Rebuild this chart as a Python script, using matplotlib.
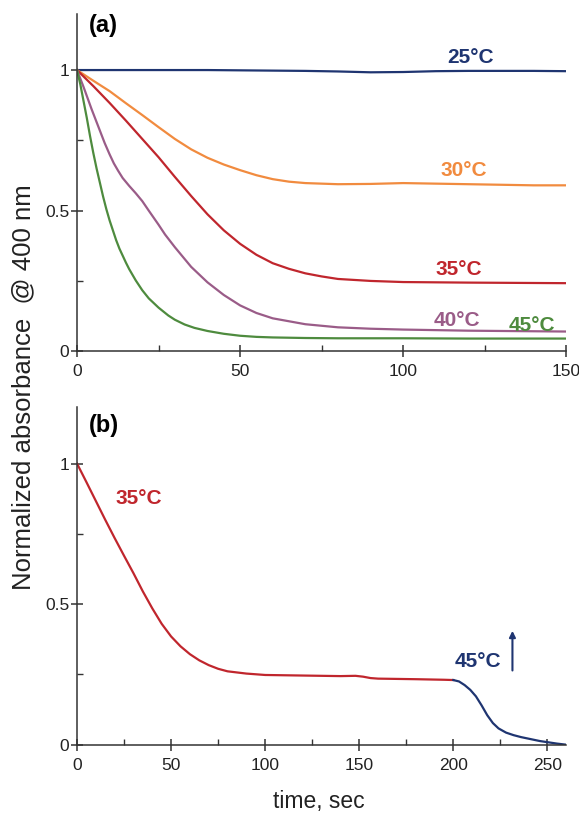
import matplotlib
matplotlib.use("Agg")
import matplotlib.pyplot as plt
from matplotlib.ticker import MultipleLocator, FixedLocator

plt.rcParams["font.family"] = ["Liberation Sans", "DejaVu Sans"]

# ---- panel (a): absorbance decay at different temperatures ----
t_25 = [0, 10, 20, 30, 40, 50, 60, 70, 80, 90, 100, 110, 120, 130, 140, 150]
a_25 = [1.0, 1.0, 1.0, 1.0, 1.0, 0.999, 0.998, 0.997, 0.995, 0.992, 0.993, 0.996, 0.997, 0.997, 0.997, 0.996]

t_30 = [0, 5, 10, 15, 20, 25, 30, 35, 40, 45, 50, 55, 60, 65, 70, 80, 90, 100, 110, 120, 130, 140, 150]
a_30 = [1.0, 0.962, 0.925, 0.882, 0.84, 0.797, 0.755, 0.718, 0.688, 0.664, 0.644, 0.626, 0.612,
        0.603, 0.598, 0.594, 0.595, 0.598, 0.596, 0.594, 0.592, 0.59, 0.59]

t_35 = [0, 5, 10, 15, 20, 25, 30, 35, 40, 45, 50, 55, 60, 65, 70, 75, 80, 90, 100, 120, 150]
a_35 = [1.0, 0.943, 0.883, 0.82, 0.755, 0.69, 0.62, 0.552, 0.487, 0.43, 0.382, 0.343, 0.313,
        0.293, 0.277, 0.266, 0.257, 0.25, 0.246, 0.244, 0.242]

t_40 = [0, 2, 4.5, 7, 8.5, 10, 11.3, 12.6, 14, 16, 18, 20, 22, 25, 27, 30, 35, 40, 45, 50,
        55, 60, 70, 80, 90, 100, 120, 150]
a_40 = [1.0, 0.94, 0.86, 0.785, 0.74, 0.70, 0.668, 0.642, 0.616, 0.588, 0.562, 0.534, 0.50,
        0.45, 0.415, 0.37, 0.30, 0.245, 0.2, 0.163, 0.136, 0.117, 0.096, 0.085, 0.08, 0.077,
        0.073, 0.07]

t_45 = [0, 1, 2, 3, 4, 5, 6, 7, 8, 9, 10, 11, 12, 13, 14, 15, 16, 18, 20, 22, 25, 28, 30,
        33, 36, 40, 45, 50, 55, 60, 70, 80, 100, 120, 150]
a_45 = [1.0, 0.95, 0.89, 0.83, 0.765, 0.705, 0.65, 0.60, 0.55, 0.505, 0.465, 0.43, 0.395,
        0.365, 0.34, 0.315, 0.292, 0.252, 0.217, 0.188, 0.155, 0.127, 0.112, 0.095, 0.083,
        0.072, 0.062, 0.055, 0.051, 0.049, 0.047, 0.046, 0.046, 0.045, 0.045]

# ---- panel (b): 35C then jump to 45C ----
tb_35 = [0, 5, 10, 15, 20, 25, 30, 35, 40, 45, 50, 55, 60, 65, 70, 75, 80, 90, 100,
         120, 140, 148, 152, 156, 160, 180, 195, 200]
ab_35 = [1.0, 0.934, 0.867, 0.80, 0.735, 0.672, 0.61, 0.545, 0.485, 0.43, 0.385, 0.35, 0.322,
         0.30, 0.283, 0.27, 0.261, 0.253, 0.248, 0.246, 0.244, 0.245, 0.242, 0.237,
         0.235, 0.233, 0.231, 0.23]
tb_45 = [200, 203, 206, 209, 212, 215, 218, 221, 224, 228, 232, 236, 241, 246, 250, 255, 260]
ab_45 = [0.23, 0.225, 0.212, 0.195, 0.172, 0.14, 0.105, 0.077, 0.058, 0.043, 0.034, 0.027,
         0.02, 0.013, 0.009, 0.004, 0.0]

C_NAVY = "#1f3571"
C_ORANGE = "#f18b3f"
C_RED = "#c0262d"
C_PURPLE = "#9a5c88"
C_GREEN = "#4e8b3e"


def style_axis(ax, xmax, xmajor):
    for side in ["top", "right"]:
        ax.spines[side].set_visible(False)
    for side in ["left", "bottom"]:
        ax.spines[side].set_color("#333333")
        ax.spines[side].set_linewidth(1.1)
    ax.set_xlim(0, xmax)
    ax.set_ylim(0, 1.2)
    ax.xaxis.set_major_locator(MultipleLocator(xmajor))
    ax.xaxis.set_minor_locator(MultipleLocator(xmajor / 2))
    ax.yaxis.set_major_locator(FixedLocator([0, 0.5, 1]))
    ax.yaxis.set_minor_locator(FixedLocator([0.25, 0.75]))
    ax.set_yticklabels(["0", "0.5", "1"])
    ax.tick_params(which="major", direction="inout", length=9, width=1.1,
                   color="#333333", labelsize=12.5, labelcolor="#222222")
    ax.tick_params(axis="y", which="major", pad=1)
    ax.tick_params(axis="x", which="major", pad=5)
    ax.tick_params(which="minor", direction="in", length=4, width=1.0, color="#333333")


fig = plt.figure(figsize=(5.79, 8.13), dpi=100)
ax1 = fig.add_axes([0.133, 0.568, 0.845, 0.415])
ax2 = fig.add_axes([0.133, 0.084, 0.845, 0.415])

lw = 1.6
ax1.plot(t_25, a_25, color=C_NAVY, lw=lw)
ax1.plot(t_30, a_30, color=C_ORANGE, lw=lw)
ax1.plot(t_35, a_35, color=C_RED, lw=lw)
ax1.plot(t_40, a_40, color=C_PURPLE, lw=lw)
ax1.plot(t_45, a_45, color=C_GREEN, lw=lw)
style_axis(ax1, 150, 50)

lab = dict(fontsize=15, fontweight="bold", ha="center", va="center")
ax1.text(120.6, 1.043, "25°C", color=C_NAVY, **lab)
ax1.text(118.5, 0.644, "30°C", color=C_ORANGE, **lab)
ax1.text(117, 0.292, "35°C", color=C_RED, **lab)
ax1.text(116.6, 0.11, "40°C", color=C_PURPLE, **lab)
ax1.text(139.6, 0.093, "45°C", color=C_GREEN, **lab)
ax1.text(8, 1.157, "(a)", fontsize=17, fontweight="bold", ha="center", va="center")

ax2.plot(tb_35, ab_35, color=C_RED, lw=lw)
ax2.plot(tb_45, ab_45, color=C_NAVY, lw=lw)
style_axis(ax2, 260, 50)
ax2.text(33.1, 0.876, "35°C", color=C_RED, **lab)
ax2.text(212.9, 0.295, "45°C", color=C_NAVY, **lab)
ax2.annotate("", xy=(231.4, 0.405), xytext=(231.4, 0.264),
             arrowprops=dict(arrowstyle="-|>", color=C_NAVY, lw=1.5,
                             mutation_scale=9, shrinkA=0, shrinkB=0))
ax2.text(14.5, 1.135, "(b)", fontsize=17, fontweight="bold", ha="center", va="center")

fig.text(0.04, 0.524, "Normalized absorbance  @ 400 nm", rotation=90,
         fontsize=18.5, ha="center", va="center", color="#222222")
fig.text(0.55, 0.014, "time, sec", fontsize=16.5, ha="center", va="center", color="#222222")

fig.savefig("out.png", dpi=100)
